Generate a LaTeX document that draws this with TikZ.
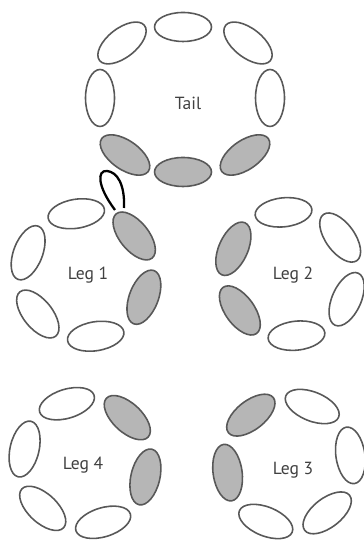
\documentclass[tikz,border=0pt]{standalone}
\usepackage{fontspec}
\setsansfont{PT Sans}
\usepackage{xcolor}
\usepackage{tikz}
\usetikzlibrary{
  shapes.geometric,
  calc
}
\definecolor{segline}{RGB}{88, 88, 88}
\definecolor{segfill}{RGB}{182, 182, 182}

\begin{document}
\begin{tikzpicture}[
  x=0.02cm, y=0.02cm,
  seg/.style={ellipse, draw=segline, line width=0.9pt,
              minimum width=1.14cm, minimum height=0.58cm, inner sep=0pt},
  lbl/.style={font=\sffamily\fontsize{10}{12}\selectfont, text=black!75},
  wire/.style={draw=black, line width=1.3pt}
]
\useasboundingbox (0,0) rectangle (363,546);

% ring centres
\coordinate (tailc) at (185,446);
\coordinate (leg1c) at (86,271);
\coordinate (leg2c) at (290,272);
\coordinate (leg4c) at (85,83);
\coordinate (leg3c) at (289,82);

% tail ring
\foreach \i/\x/\y/\r/\f in {1/183/519/0/white, 2/122/503/38/white,
    3/248/503/-38/white, 4/100/448/90/white, 5/270/448/90/white,
    6/125/391/-35/segfill, 7/183/374/0/segfill, 8/245/391/35/segfill}{
  \node[seg, fill=\f, rotate=\r] (tail\i) at (\x,\y) {};
}

% leg rings
\foreach \a/\f in {39/segfill, 99/white, 159/white, 219/white, 279/white, 339/segfill}{
  \node[seg, fill=\f, rotate=\a+90] (legone\a) at ($(leg1c)+(\a:62)$) {};
}
\foreach \a/\f in {36/white, 96/white, 156/segfill, 216/segfill, 276/white, 336/white}{
  \node[seg, fill=\f, rotate=\a+90] (legtwo\a) at ($(leg2c)+(\a:62)$) {};
}
\foreach \a/\f in {47/segfill, 107/white, 167/white, 227/white, 287/white, 347/segfill}{
  \node[seg, fill=\f, rotate=\a+90] (legfour\a) at ($(leg4c)+(\a:62)$) {};
}
\foreach \a/\f in {8/white, 68/white, 128/segfill, 188/segfill, 248/white, 308/white}{
  \node[seg, fill=\f, rotate=\a+90] (legthree\a) at ($(leg3c)+(\a:62)$) {};
}

% labels
\node[lbl] (taillbl) at (188,443) {Tail};
\node[lbl] (leg1lbl) at (88,271) {Leg 1};
\node[lbl] (leg2lbl) at (293,271) {Leg 2};
\node[lbl] (leg4lbl) at (83,81) {Leg 4};
\node[lbl] (leg3lbl) at (293,76) {Leg 3};

% hairpin loop
\draw[wire] (115,336) .. controls (97,360) and (97,376) .. (107,375)
  .. controls (117,374) and (125,362) .. (124,338);

\end{tikzpicture}
\end{document}
